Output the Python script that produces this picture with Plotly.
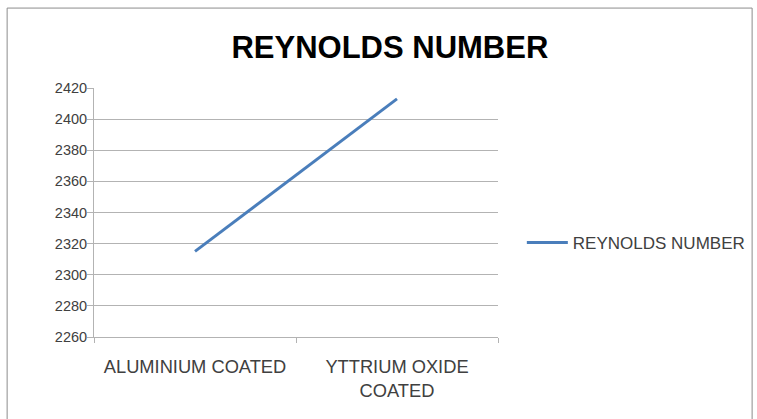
import plotly.graph_objects as go

# Data
categories = ['ALUMINIUM COATED', 'YTTRIUM OXIDE<br>COATED']
reynolds = [2315, 2413]
y_ticks = [2260, 2280, 2300, 2320, 2340, 2360, 2380, 2400, 2420]

FONT = 'Liberation Sans'
TEXT = '#404040'
GRID = '#b3b3b3'

fig = go.Figure()

fig.add_trace(go.Scatter(
    x=categories,
    y=reynolds,
    name='REYNOLDS NUMBER',
    mode='lines',
    line=dict(color='#4a7ebb', width=3),
))

# Outer chart border
fig.add_shape(
    type='rect', xref='paper', yref='paper',
    x0=-0.215, x1=1.629, y0=-0.5, y1=1.321,
    line=dict(color='#8c8c8c', width=1),
    layer='below',
)

fig.update_layout(
    width=757,
    height=419,
    margin=dict(l=94, r=259, t=88, b=82, autoexpand=False),
    paper_bgcolor='white',
    plot_bgcolor='white',
    font=dict(family=FONT, size=15, color=TEXT),
    title=dict(
        text='<b>REYNOLDS NUMBER</b>',
        x=0.515, xanchor='center',
        y=0.888, yanchor='middle',
        font=dict(family=FONT, size=31, color='black'),
    ),
    showlegend=True,
    legend=dict(
        x=1.059, xanchor='left',
        y=0.378, yanchor='middle',
        itemwidth=41,
        font=dict(family=FONT, size=17, color=TEXT),
        bgcolor='rgba(0,0,0,0)',
    ),
    xaxis=dict(
        type='category',
        range=[-0.5, 1.5],
        showgrid=False,
        showline=True,
        linecolor=GRID,
        linewidth=1,
        ticks='outside',
        tickson='boundaries',
        ticklen=5,
        tickcolor=GRID,
        ticklabelstandoff=13,
        tickfont=dict(family=FONT, size=18.3, color=TEXT),
    ),
    yaxis=dict(
        range=[2260, 2420],
        tickvals=y_ticks,
        showgrid=True,
        gridcolor=GRID,
        gridwidth=1,
        showline=True,
        linecolor=GRID,
        linewidth=1,
        ticks='outside',
        ticklen=6,
        tickcolor=GRID,
        ticklabelstandoff=-3,
        zeroline=False,
        tickfont=dict(family=FONT, size=14.5, color=TEXT),
    ),
)

# the page body has a default 8px margin; drop it so the figure sits at 0,0
fig.write_html('out.html', config={'displayModeBar': False},
               post_script="document.body.style.margin='0';")
